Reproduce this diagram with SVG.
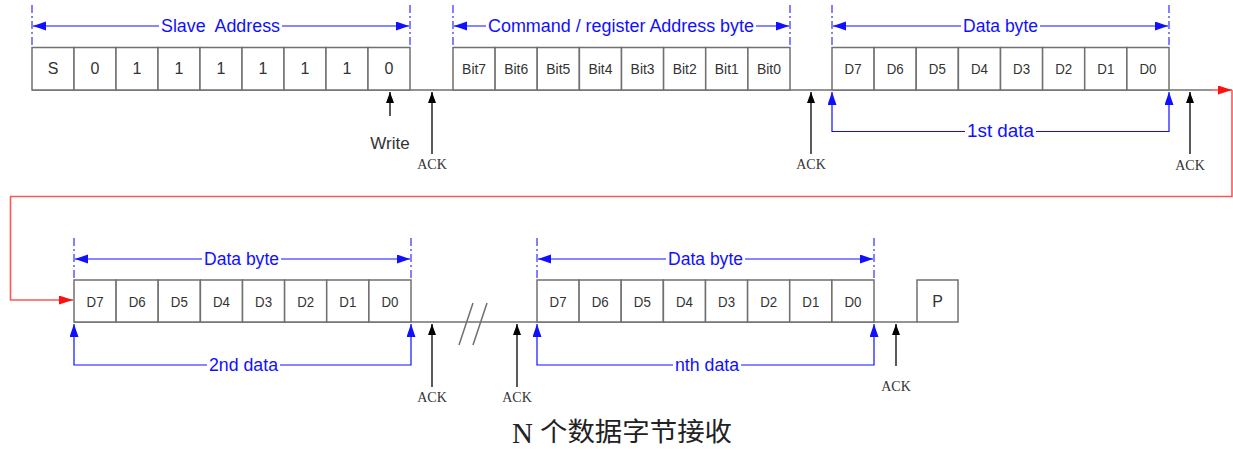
<svg xmlns="http://www.w3.org/2000/svg" width="1233" height="450" viewBox="0 0 1233 450">
<defs>
<marker id="ab" markerUnits="userSpaceOnUse" markerWidth="14" markerHeight="10" refX="13" refY="4.5" orient="auto-start-reverse"><path d="M0,0 L13,4.5 L0,9 z" fill="#1010ff"/></marker>
<marker id="ak" markerUnits="userSpaceOnUse" markerWidth="12" markerHeight="9" refX="11" refY="4" orient="auto-start-reverse"><path d="M0,0 L11,4 L0,8 z" fill="#000"/></marker>
<marker id="ar" markerUnits="userSpaceOnUse" markerWidth="15" markerHeight="10" refX="14" refY="4.5" orient="auto"><path d="M0,0 L14,4.5 L0,9 z" fill="#ff1010"/></marker>
<style>
.cell{fill:#fff;stroke:#707070;stroke-width:1.5}
.base{stroke:#707070;stroke-width:1.5;fill:none}
.lbl{font-family:"Liberation Sans",Arial,sans-serif;font-size:15px;fill:#333;text-anchor:middle}
.dl{font-family:"Liberation Sans",Arial,sans-serif;font-size:17px;fill:#333;text-anchor:middle}
.dim{stroke:#1010ff;stroke-width:1.2;fill:none}
.dash{stroke:#3030ff;stroke-width:1.2;stroke-dasharray:8 3 2 3;fill:none}
.bt{font-family:"Liberation Sans",Arial,sans-serif;font-size:17.5px;fill:#1010ff;text-anchor:middle}
.wb{fill:#fff}
.ka{stroke:#000;stroke-width:1.3;fill:none}
.ack{font-family:"Liberation Serif","Times New Roman",serif;font-size:14px;fill:#333;text-anchor:middle}
.red{stroke:#ff5555;stroke-width:1.6;fill:none}
.cap{font-family:"Liberation Serif","Noto Sans CJK SC",serif;font-size:29px;fill:#222}
.capc{font-family:"Noto Sans CJK SC","Noto Sans CJK JP",sans-serif;font-size:26px;fill:#222}
</style>
</defs>

<g id="connectors">
<path class="base" d="M32,90 H1212"/>
<path class="base" d="M74,322 H917"/>
<path class="base" d="M459,345 L473,303 M473,345 L487,303"/>
<path class="red" d="M1212,90 H1232" marker-end="url(#ar)"/>
<path class="red" d="M1232,90 V196.5 H10.5 V300 H73" marker-end="url(#ar)"/>
<path class="ka" d="M390,116 V92" marker-end="url(#ak)"/>
<path class="ka" d="M432,154 V92" marker-end="url(#ak)"/>
<path class="ka" d="M811,154 V92" marker-end="url(#ak)"/>
<path class="ka" d="M1190,154 V92" marker-end="url(#ak)"/>
<path class="ka" d="M432,387 V324" marker-end="url(#ak)"/>
<path class="ka" d="M517,387 V324" marker-end="url(#ak)"/>
<path class="ka" d="M896,366 V324" marker-end="url(#ak)"/>
<path class="dim" d="M832,92 V131.5 H1169 V92" marker-start="url(#ab)" marker-end="url(#ab)"/>
<path class="dim" d="M74,324 V365 H411 V324" marker-start="url(#ab)" marker-end="url(#ab)"/>
<path class="dim" d="M537,324 V365 H874 V324" marker-start="url(#ab)" marker-end="url(#ab)"/>
<path class="dash" d="M32,5 V47 M410,5 V47 M453,5 V47 M790,5 V47 M832,5 V47 M1169,5 V47 M74,238 V280 M411,238 V280 M537,238 V280 M874,238 V280"/>
<path class="dim" d="M33,26 H409" marker-start="url(#ab)" marker-end="url(#ab)"/>
<path class="dim" d="M454,26 H789" marker-start="url(#ab)" marker-end="url(#ab)"/>
<path class="dim" d="M833,26 H1168" marker-start="url(#ab)" marker-end="url(#ab)"/>
<path class="dim" d="M75,259 H410" marker-start="url(#ab)" marker-end="url(#ab)"/>
<path class="dim" d="M538,259 H873" marker-start="url(#ab)" marker-end="url(#ab)"/>
<rect class="wb" x="159" y="18" width="123" height="16"/>
<rect class="wb" x="486" y="18" width="270" height="16"/>
<rect class="wb" x="961" y="18" width="79" height="16"/>
<rect class="wb" x="202" y="251" width="79" height="16"/>
<rect class="wb" x="666" y="251" width="79" height="16"/>
<rect class="wb" x="965" y="123" width="71" height="16"/>
<rect class="wb" x="207" y="357" width="73" height="16"/>
<rect class="wb" x="673" y="357" width="68" height="16"/>
<text class="bt" x="220.5" y="32" textLength="119" lengthAdjust="spacingAndGlyphs">Slave&#160; Address</text>
<text class="bt" x="621" y="32" textLength="266" lengthAdjust="spacingAndGlyphs">Command / register Address byte</text>
<text class="bt" x="1000.5" y="32" textLength="75" lengthAdjust="spacingAndGlyphs">Data byte</text>
<text class="bt" x="241.5" y="265" textLength="75" lengthAdjust="spacingAndGlyphs">Data byte</text>
<text class="bt" x="705.5" y="265" textLength="75" lengthAdjust="spacingAndGlyphs">Data byte</text>
<text class="bt" x="1000.5" y="137" textLength="67" lengthAdjust="spacingAndGlyphs">1st data</text>
<text class="bt" x="243.5" y="371" textLength="69" lengthAdjust="spacingAndGlyphs">2nd data</text>
<text class="bt" x="707" y="371" textLength="64" lengthAdjust="spacingAndGlyphs">nth data</text>
<text class="dl" x="390" y="149">Write</text>
<text class="ack" x="432" y="169">ACK</text>
<text class="ack" x="811" y="169">ACK</text>
<text class="ack" x="1190" y="170">ACK</text>
<text class="ack" x="432" y="402">ACK</text>
<text class="ack" x="517" y="402">ACK</text>
<text class="ack" x="896" y="391">ACK</text>
</g>

<g id="slave-address">
<rect class="cell" x="32" y="47.5" width="42" height="42.5"/><text class="lbl" x="53" y="74" style="font-size:16px">S</text>
<rect class="cell" x="74" y="47.5" width="42" height="42.5"/><text class="lbl" x="95" y="74" style="font-size:16px">0</text>
<rect class="cell" x="116" y="47.5" width="42" height="42.5"/><text class="lbl" x="137" y="74" style="font-size:16px">1</text>
<rect class="cell" x="158" y="47.5" width="42" height="42.5"/><text class="lbl" x="179" y="74" style="font-size:16px">1</text>
<rect class="cell" x="200" y="47.5" width="42" height="42.5"/><text class="lbl" x="221" y="74" style="font-size:16px">1</text>
<rect class="cell" x="242" y="47.5" width="42" height="42.5"/><text class="lbl" x="263" y="74" style="font-size:16px">1</text>
<rect class="cell" x="284" y="47.5" width="42" height="42.5"/><text class="lbl" x="305" y="74" style="font-size:16px">1</text>
<rect class="cell" x="326" y="47.5" width="42" height="42.5"/><text class="lbl" x="347" y="74" style="font-size:16px">1</text>
<rect class="cell" x="368" y="47.5" width="42" height="42.5"/><text class="lbl" x="389" y="74" style="font-size:16px">0</text>
</g>

<g id="command-byte">
<rect class="cell" x="453" y="47.5" width="42.1" height="42.5"/><text class="lbl" x="474.1" y="74" textLength="24" lengthAdjust="spacingAndGlyphs">Bit7</text>
<rect class="cell" x="495.1" y="47.5" width="42.1" height="42.5"/><text class="lbl" x="516.2" y="74" textLength="24" lengthAdjust="spacingAndGlyphs">Bit6</text>
<rect class="cell" x="537.2" y="47.5" width="42.1" height="42.5"/><text class="lbl" x="558.3" y="74" textLength="24" lengthAdjust="spacingAndGlyphs">Bit5</text>
<rect class="cell" x="579.4" y="47.5" width="42.1" height="42.5"/><text class="lbl" x="600.4" y="74" textLength="24" lengthAdjust="spacingAndGlyphs">Bit4</text>
<rect class="cell" x="621.5" y="47.5" width="42.1" height="42.5"/><text class="lbl" x="642.6" y="74" textLength="24" lengthAdjust="spacingAndGlyphs">Bit3</text>
<rect class="cell" x="663.6" y="47.5" width="42.1" height="42.5"/><text class="lbl" x="684.7" y="74" textLength="24" lengthAdjust="spacingAndGlyphs">Bit2</text>
<rect class="cell" x="705.7" y="47.5" width="42.1" height="42.5"/><text class="lbl" x="726.8" y="74" textLength="24" lengthAdjust="spacingAndGlyphs">Bit1</text>
<rect class="cell" x="747.9" y="47.5" width="42.1" height="42.5"/><text class="lbl" x="768.9" y="74" textLength="24" lengthAdjust="spacingAndGlyphs">Bit0</text>
</g>

<g id="data-byte-1">
<rect class="cell" x="832" y="47.5" width="42.1" height="42.5"/><text class="lbl" x="853.1" y="74" textLength="17" lengthAdjust="spacingAndGlyphs">D7</text>
<rect class="cell" x="874.1" y="47.5" width="42.1" height="42.5"/><text class="lbl" x="895.2" y="74" textLength="17" lengthAdjust="spacingAndGlyphs">D6</text>
<rect class="cell" x="916.2" y="47.5" width="42.1" height="42.5"/><text class="lbl" x="937.3" y="74" textLength="17" lengthAdjust="spacingAndGlyphs">D5</text>
<rect class="cell" x="958.4" y="47.5" width="42.1" height="42.5"/><text class="lbl" x="979.4" y="74" textLength="17" lengthAdjust="spacingAndGlyphs">D4</text>
<rect class="cell" x="1000.5" y="47.5" width="42.1" height="42.5"/><text class="lbl" x="1021.6" y="74" textLength="17" lengthAdjust="spacingAndGlyphs">D3</text>
<rect class="cell" x="1042.6" y="47.5" width="42.1" height="42.5"/><text class="lbl" x="1063.7" y="74" textLength="17" lengthAdjust="spacingAndGlyphs">D2</text>
<rect class="cell" x="1084.7" y="47.5" width="42.1" height="42.5"/><text class="lbl" x="1105.8" y="74" textLength="17" lengthAdjust="spacingAndGlyphs">D1</text>
<rect class="cell" x="1126.9" y="47.5" width="42.1" height="42.5"/><text class="lbl" x="1147.9" y="74" textLength="17" lengthAdjust="spacingAndGlyphs">D0</text>
</g>

<g id="data-byte-2">
<rect class="cell" x="74" y="280" width="42.1" height="42"/><text class="lbl" x="95.1" y="307" textLength="17" lengthAdjust="spacingAndGlyphs">D7</text>
<rect class="cell" x="116.1" y="280" width="42.1" height="42"/><text class="lbl" x="137.2" y="307" textLength="17" lengthAdjust="spacingAndGlyphs">D6</text>
<rect class="cell" x="158.2" y="280" width="42.1" height="42"/><text class="lbl" x="179.3" y="307" textLength="17" lengthAdjust="spacingAndGlyphs">D5</text>
<rect class="cell" x="200.4" y="280" width="42.1" height="42"/><text class="lbl" x="221.4" y="307" textLength="17" lengthAdjust="spacingAndGlyphs">D4</text>
<rect class="cell" x="242.5" y="280" width="42.1" height="42"/><text class="lbl" x="263.6" y="307" textLength="17" lengthAdjust="spacingAndGlyphs">D3</text>
<rect class="cell" x="284.6" y="280" width="42.1" height="42"/><text class="lbl" x="305.7" y="307" textLength="17" lengthAdjust="spacingAndGlyphs">D2</text>
<rect class="cell" x="326.7" y="280" width="42.1" height="42"/><text class="lbl" x="347.8" y="307" textLength="17" lengthAdjust="spacingAndGlyphs">D1</text>
<rect class="cell" x="368.9" y="280" width="42.1" height="42"/><text class="lbl" x="389.9" y="307" textLength="17" lengthAdjust="spacingAndGlyphs">D0</text>
</g>

<g id="data-byte-n">
<rect class="cell" x="537" y="280" width="42.1" height="42"/><text class="lbl" x="558.1" y="307" textLength="17" lengthAdjust="spacingAndGlyphs">D7</text>
<rect class="cell" x="579.1" y="280" width="42.1" height="42"/><text class="lbl" x="600.2" y="307" textLength="17" lengthAdjust="spacingAndGlyphs">D6</text>
<rect class="cell" x="621.2" y="280" width="42.1" height="42"/><text class="lbl" x="642.3" y="307" textLength="17" lengthAdjust="spacingAndGlyphs">D5</text>
<rect class="cell" x="663.4" y="280" width="42.1" height="42"/><text class="lbl" x="684.4" y="307" textLength="17" lengthAdjust="spacingAndGlyphs">D4</text>
<rect class="cell" x="705.5" y="280" width="42.1" height="42"/><text class="lbl" x="726.6" y="307" textLength="17" lengthAdjust="spacingAndGlyphs">D3</text>
<rect class="cell" x="747.6" y="280" width="42.1" height="42"/><text class="lbl" x="768.7" y="307" textLength="17" lengthAdjust="spacingAndGlyphs">D2</text>
<rect class="cell" x="789.7" y="280" width="42.1" height="42"/><text class="lbl" x="810.8" y="307" textLength="17" lengthAdjust="spacingAndGlyphs">D1</text>
<rect class="cell" x="831.9" y="280" width="42.1" height="42"/><text class="lbl" x="852.9" y="307" textLength="17" lengthAdjust="spacingAndGlyphs">D0</text>
</g>

<g id="stop">
<rect class="cell" x="917" y="280" width="41" height="42"/><text class="lbl" x="937.5" y="307" style="font-size:16px">P</text>
</g>

<g id="caption">
<text class="cap" x="512" y="443">N</text>
<text class="capc" x="540" y="441" textLength="192" lengthAdjust="spacingAndGlyphs">个数据字节接收</text>
</g>
</svg>
